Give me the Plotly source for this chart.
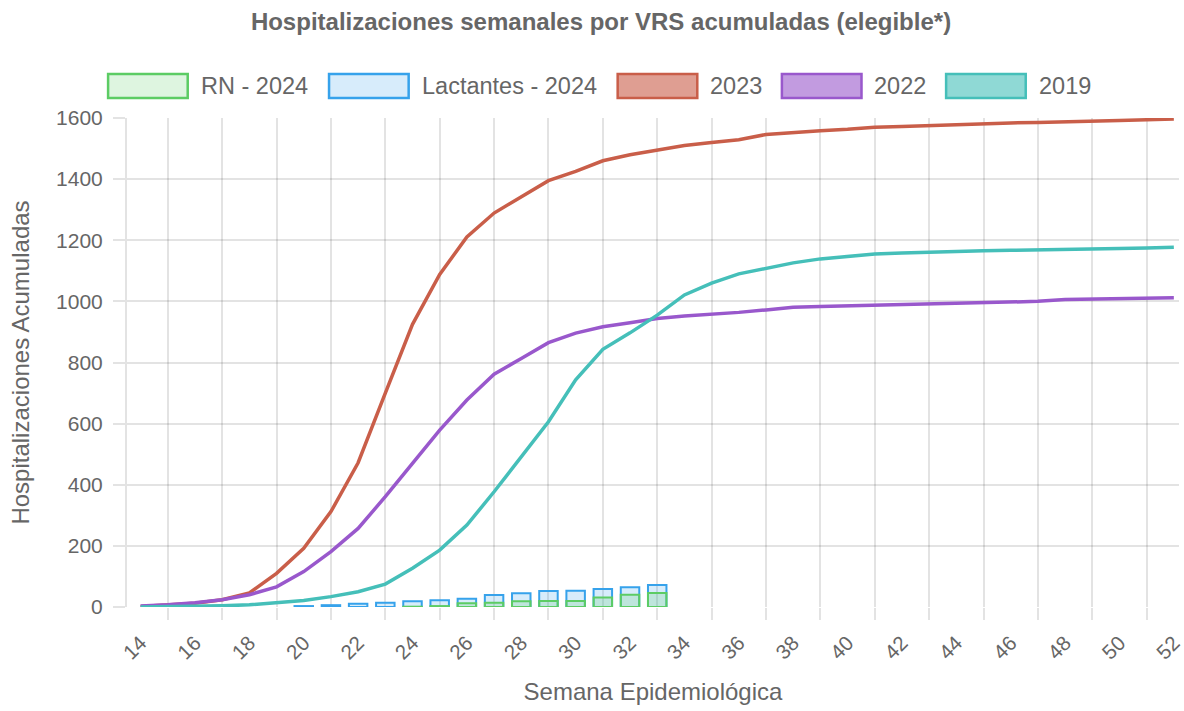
import plotly.graph_objects as go

# ---------------- data ----------------
weeks = list(range(14, 53))

y2023 = [2, 6, 12, 24, 46, 110, 192, 312, 472, 700, 925, 1088, 1211, 1289, 1342, 1395,
         1425, 1460, 1480, 1494, 1510, 1520, 1529, 1546, 1553, 1558, 1563, 1570, 1572,
         1575, 1578, 1582, 1584, 1585, 1588, 1591, 1592, 1594, 1597]
y2022 = [3, 7, 14, 24, 40, 66, 116, 181, 257, 361, 470, 579, 677, 762, 813, 865, 896,
         917, 930, 944, 952, 957, 964, 972, 981, 983, 985, 986, 988, 990, 992, 995, 998,
         1000, 1006, 1008, 1010, 1011, 1012]
y2019 = [0, 1, 2, 4, 7, 14, 21, 34, 50, 75, 127, 186, 268, 377, 492, 606, 743, 843,
         897, 955, 1021, 1060, 1090, 1109, 1126, 1139, 1147, 1155, 1158, 1161, 1163,
         1166, 1167, 1168, 1169, 1171, 1173, 1175, 1177]

bar_weeks = list(range(20, 34))
lactantes_2024 = [3, 6, 11, 14, 19, 22, 27, 39, 45, 52, 53, 59, 65, 72]
rn_2024 = [None, None, None, None, 1, 3, 12, 14, 19, 20, 20, 31, 40, 46]

tick_weeks = list(range(14, 53, 2))
tick_labels = [str(w) for w in tick_weeks]
y_ticks = list(range(0, 1601, 200))

series_names = ["RN - 2024", "Lactantes - 2024", "2023", "2022", "2019"]

# ---------------- style ----------------
W, H = 1184, 711
L, R, T, B = 127, 0, 118, 104
FONT = "Liberation Sans, Arial, Helvetica, sans-serif"
TXT = "#666666"
GRID = "rgba(0,0,0,0.11)"

c_rn = "rgb(92,204,100)"
c_lac = "rgb(54,162,235)"
c_23 = "rgb(201,94,73)"
c_22 = "rgb(153,88,204)"
c_19 = "rgb(69,191,185)"

fig = go.Figure()

fig.add_trace(go.Bar(x=bar_weeks, y=lactantes_2024, name=series_names[1], width=0.68,
                     marker=dict(color="rgba(54,162,235,0.2)", line=dict(color=c_lac, width=2))))
fig.add_trace(go.Bar(x=bar_weeks, y=rn_2024, name=series_names[0], width=0.68,
                     marker=dict(color="rgba(92,204,100,0.2)", line=dict(color=c_rn, width=2))))
fig.add_trace(go.Scatter(x=weeks, y=y2023, name=series_names[2], mode="lines",
                         line=dict(color=c_23, width=3.5)))
fig.add_trace(go.Scatter(x=weeks, y=y2022, name=series_names[3], mode="lines",
                         line=dict(color=c_22, width=3.5)))
fig.add_trace(go.Scatter(x=weeks, y=y2019, name=series_names[4], mode="lines",
                         line=dict(color=c_19, width=3.5)))

plot_w = W - L - R
plot_h = H - T - B


def px(x):
    return (x - L) / plot_w


def py(y):
    return (H - B - y) / plot_h


# custom legend (wide boxes like the original)
legend_box_left = [108, 330, 620, 785, 950]
legend_fill = ["rgba(92,204,100,0.2)", "rgba(54,162,235,0.2)", "rgba(201,94,73,0.6)",
               "rgba(153,88,204,0.6)", "rgba(69,191,185,0.6)"]
legend_line = [c_rn, c_lac, c_23, c_22, c_19]
shapes = []
annotations = []
for name, x0, fc, lc in zip(series_names, legend_box_left, legend_fill, legend_line):
    shapes.append(dict(type="rect", xref="paper", yref="paper",
                       x0=px(x0), x1=px(x0 + 80), y0=py(98), y1=py(74),
                       fillcolor=fc, line=dict(color=lc, width=2.5), layer="above"))
    annotations.append(dict(xref="paper", yref="paper", x=px(x0 + 91), y=py(86),
                            xanchor="left", yanchor="middle", showarrow=False,
                            text=name, font=dict(family=FONT, size=23.5, color=TXT)))

fig.update_layout(
    width=W, height=H,
    margin=dict(l=L, r=R, t=T, b=B),
    paper_bgcolor="white", plot_bgcolor="white",
    barmode="overlay", showlegend=False,
    font=dict(family=FONT, color=TXT),
    title=dict(text="<b>Hospitalizaciones semanales por VRS acumuladas (elegible*)</b>",
               xref="container", yref="container", x=601 / W, y=1 - 22 / H,
               xanchor="center", yanchor="middle",
               font=dict(family=FONT, size=24, color=TXT)),
    shapes=shapes, annotations=annotations,
)

fig.update_xaxes(
    range=[13.5, 13.5 + plot_w / 27.32],
    tickmode="array", tickvals=tick_weeks, ticktext=tick_labels,
    tickangle=-45, ticks="", showgrid=False, zeroline=False,
    tickfont=dict(family=FONT, size=20.5, color=TXT),
    ticklabelstandoff=19, ticklabeloverflow="allow",
    minor=dict(tickmode="linear", tick0=13, dtick=2, showgrid=True, gridcolor=GRID,
               gridwidth=2, ticks="outside", ticklen=12, tickcolor=GRID, tickwidth=2),
    showline=False,
    title=dict(text="Semana Epidemiológica", standoff=20,
               font=dict(family=FONT, size=24, color=TXT)),
)
fig.update_yaxes(
    range=[0, 1600], tickmode="array", tickvals=y_ticks,
    showgrid=True, gridcolor=GRID, gridwidth=2, zeroline=False,
    ticks="outside", ticklen=12, tickcolor=GRID, tickwidth=2,
    tickfont=dict(family=FONT, size=21, color=TXT),
    ticklabelstandoff=6,
    showline=True, linecolor=GRID, linewidth=2,
    title=dict(text="Hospitalizaciones Acumuladas", standoff=20,
               font=dict(family=FONT, size=24, color=TXT)),
)

fig.write_html("out.html", config={"displayModeBar": False},
               post_script="document.body.style.margin='0';document.body.style.overflow='hidden';")
